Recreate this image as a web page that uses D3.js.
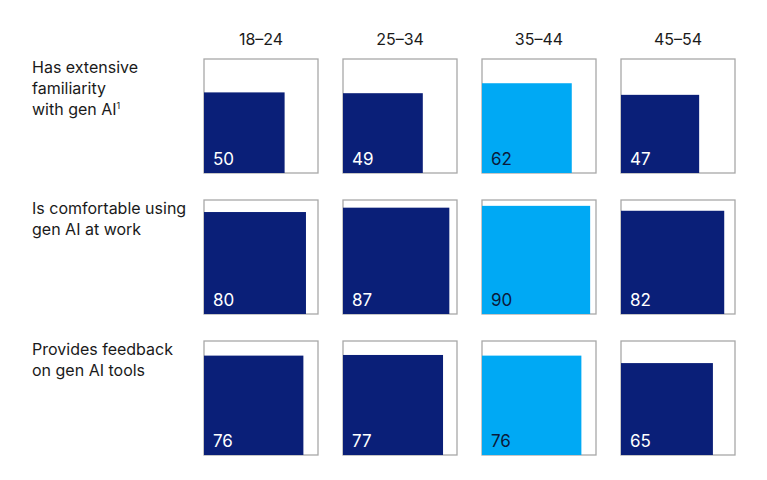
<!DOCTYPE html>
<html>
<head>
<meta charset="utf-8">
<script src="https://cdn.jsdelivr.net/npm/d3@7"></script>
<style>
  body { margin: 0; background: #fff; }
  svg text { font-family: Inter, "Liberation Sans", sans-serif; }
</style>
</head>
<body>
<script>
// Data
const ageGroups = ['18–24', '25–34', '35–44', '45–54'];
const statements = [
    ['Has extensive', 'familiarity', 'with gen AI'],
    ['Is comfortable using', 'gen AI at work'],
    ['Provides feedback', 'on gen AI tools']
];
const footnotes = ['1', '', ''];
const values = [
    [50, 49, 62, 47],
    [80, 87, 90, 82],
    [76, 77, 76, 65]
];
const highlightGroup = '35–44';

const width = 767;
const height = 480;

const navy = '#0a1f78';
const cyan = '#00a9f4';

const svg = d3.select('body').append('svg')
    .attr('width', width)
    .attr('height', height);

// scales
const x = d3.scaleBand()
    .domain(ageGroups)
    .range([204, 735])
    .paddingInner(25/139)
    .paddingOuter(0);

const y = d3.scaleBand()
    .domain(d3.range(statements.length))
    .range([59, 455])
    .paddingInner(27/141)
    .paddingOuter(0);

const side = Math.min(x.bandwidth(), y.bandwidth());
const size = d3.scaleSqrt().domain([0, 100]).range([0, side]);

// column headers
svg.selectAll('text.header')
    .data(ageGroups)
    .enter()
    .append('text')
    .attr('class', 'header')
    .attr('x', d => x(d) + x.bandwidth()/2)
    .attr('y', 45)
    .style('text-anchor', 'middle')
    .style('font-size', '16px')
    .style('fill', '#1a1a1a')
    .text(d => d);

// row labels
const rowLabels = svg.selectAll('text.rowLabel')
    .data(statements)
    .enter()
    .append('text')
    .attr('class', 'rowLabel')
    .attr('x', 32)
    .attr('y', (d, i) => y(i) + 14)
    .style('font-size', '16px')
    .style('fill', '#1a1a1a');

rowLabels.each(function(lines, i) {
    const t = d3.select(this);
    lines.forEach((line, j) => {
        t.append('tspan')
            .attr('x', 32)
            .attr('dy', j === 0 ? 0 : 21)
            .text(line);
    });
    if (footnotes[i]) {
        t.append('tspan')
            .attr('dy', -6)
            .style('font-size', '9px')
            .text(footnotes[i]);
    }
});

// cells
const cells = [];
values.forEach((row, i) => row.forEach((v, j) => cells.push({row: i, group: ageGroups[j], value: v})));

const cell = svg.selectAll('g.cell')
    .data(cells)
    .enter()
    .append('g')
    .attr('class', 'cell')
    .attr('transform', d => `translate(${x(d.group)}, ${y(d.row)})`);

cell.append('rect')
    .attr('class', 'frame')
    .attr('x', 0)
    .attr('y', 0)
    .attr('width', side)
    .attr('height', side)
    .style('fill', 'none')
    .style('stroke', '#a8a8a8')
    .style('stroke-width', 1.3);

cell.append('rect')
    .attr('class', 'fill')
    .attr('x', 0)
    .attr('y', d => side - size(d.value))
    .attr('width', d => size(d.value))
    .attr('height', d => size(d.value))
    .style('fill', d => d.group === highlightGroup ? cyan : navy);

cell.append('text')
    .attr('class', 'valueLabel')
    .attr('x', 9)
    .attr('y', side - 8)
    .style('font-size', '17px')
    .style('fill', d => d.group === highlightGroup ? '#0b1a3a' : '#ffffff')
    .text(d => d.value);
</script>
</body>
</html>
